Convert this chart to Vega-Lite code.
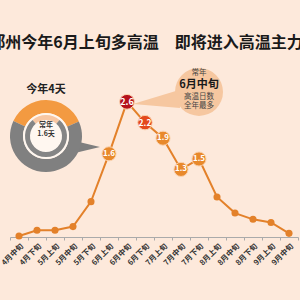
{
  "$schema": "https://vega.github.io/schema/vega-lite/v6.json",
  "width": 288,
  "height": 182,
  "autosize": {"type": "none"},
  "padding": {"left": 10, "top": 55, "right": 2, "bottom": 63},
  "background": "#fde9db",
  "config": {"view": {"stroke": null}, "font": "Noto Sans CJK SC"},
  "title": {"text": "郑州今年6月上旬多高温　即将进入高温主力位", "fontSize": 16, "fontWeight": "bold", "color": "#1a1a1a", "anchor": "middle", "frame": "group", "offset": 4},
  "datasets": {
    "main": [
      {"period": "4月中旬", "value": 0.02},
      {"period": "4月下旬", "value": 0.13},
      {"period": "5月上旬", "value": 0.13},
      {"period": "5月中旬", "value": 0.2},
      {"period": "5月下旬", "value": 0.68},
      {"period": "6月上旬", "value": 1.6, "label": "1.6", "tone": "mid"},
      {"period": "6月中旬", "value": 2.6, "label": "2.6", "tone": "peak"},
      {"period": "6月下旬", "value": 2.2, "label": "2.2", "tone": "high"},
      {"period": "7月上旬", "value": 1.9, "label": "1.9", "tone": "mid"},
      {"period": "7月中旬", "value": 1.3, "label": "1.3", "tone": "mid"},
      {"period": "7月下旬", "value": 1.5, "label": "1.5", "tone": "mid"},
      {"period": "8月上旬", "value": 0.77},
      {"period": "8月中旬", "value": 0.46},
      {"period": "8月下旬", "value": 0.34},
      {"period": "9月上旬", "value": 0.28},
      {"period": "9月中旬", "value": 0.07}
    ],
    "donutTail": [{"x": 3.28, "y": 1.83, "y2": 1.63}, {"x": 4.5, "y": 1.73, "y2": 1.73}],
    "bubbleTail": [{"x": 6.33, "y": 2.56, "y2": 2.56}, {"x": 8.94, "y": 2.83, "y2": 2.48}],
    "bubble": [{"x": 10, "y": 2.79}],
    "outer": [{"x": 1.5, "y": 1.94, "part": "今年", "days": 4}, {"x": 1.5, "y": 1.94, "part": "其余", "days": 7}],
    "inner": [{"x": 1.5, "y": 1.94, "part": "常年", "days": 1.6}, {"x": 1.5, "y": 1.94, "part": "其余", "days": 5.6}],
    "center": [{"x": 1.5, "y": 1.94}],
    "notes": [
      {"x": 1.5, "y": 2.83, "text": "今年4天", "role": "donutHead"},
      {"x": 1.5, "y": 2.15, "text": "常年", "role": "donutIn"},
      {"x": 1.5, "y": 1.98, "text": "1.6天", "role": "donutIn"},
      {"x": 10, "y": 3.16, "text": "常年", "role": "bubble"},
      {"x": 10, "y": 2.93, "text": "6月中旬", "role": "bubbleHead"},
      {"x": 10, "y": 2.7, "text": "高温日数", "role": "bubble"},
      {"x": 10, "y": 2.52, "text": "全年最多", "role": "bubble"}
    ]
  },
  "layer": [
    {
      "data": {"name": "main"},
      "encoding": {
        "x": {"field": "period", "type": "nominal", "sort": null,
          "scale": {"type": "band", "paddingInner": 0, "paddingOuter": 0},
          "axis": {"title": null, "labelAngle": -45, "labelFontSize": 7.5, "labelFontWeight": "bold", "labelColor": "#333", "domainColor": "#aaa", "tickColor": "#aaa", "tickSize": 3, "tickBand": "extent", "labelPadding": 2}},
        "y": {"field": "value", "type": "quantitative", "scale": {"domain": [0, 3.5], "nice": false}, "axis": null}
      },
      "layer": [
        {"mark": {"type": "line", "color": "#e3812a", "strokeWidth": 2}},
        {"mark": {"type": "circle", "color": "#e3812a", "opacity": 1, "size": 50}},
        {"transform": [{"filter": "datum.label != null"}],
          "mark": {"type": "circle", "opacity": 1, "stroke": "#fbd3b0", "strokeWidth": 1},
          "encoding": {
            "color": {"field": "tone", "type": "nominal", "scale": {"domain": ["mid", "high", "peak"], "range": ["#e8892c", "#e4491d", "#b5111c"]}, "legend": null},
            "size": {"field": "tone", "type": "nominal", "scale": {"domain": ["mid", "high", "peak"], "range": [200, 220, 310]}, "legend": null}
          }},
        {"transform": [{"filter": "datum.label != null"}],
          "mark": {"type": "text", "color": "white", "fontWeight": "bold"},
          "encoding": {
            "text": {"field": "label"},
            "size": {"field": "tone", "type": "nominal", "scale": {"domain": ["mid", "high", "peak"], "range": [8, 9, 10]}, "legend": null}
          }}
      ],
      "resolve": {"scale": {"size": "independent"}}
    },
    {
      "encoding": {
        "x": {"field": "x", "type": "quantitative", "scale": {"domain": [-0.5, 15.5], "nice": false, "zero": false}, "axis": null},
        "y": {"field": "y", "type": "quantitative", "scale": {"domain": [0, 3.5], "nice": false, "zero": false}, "axis": null}
      },
      "layer": [
        {"data": {"name": "donutTail"}, "mark": {"type": "area", "color": "#7f7f7f", "opacity": 1}, "encoding": {"y2": {"field": "y2"}}},
        {"data": {"name": "bubbleTail"}, "mark": {"type": "area", "color": "#f6c7a0", "opacity": 1}, "encoding": {"y2": {"field": "y2"}}},
        {"data": {"name": "bubble"}, "mark": {"type": "arc", "radius": 24, "theta": 0, "theta2": 6.2832, "color": "#f6c7a0"}},
        {"data": {"name": "outer"}, "mark": {"type": "arc", "radius": 36, "radius2": 23},
          "encoding": {
            "theta": {"field": "days", "type": "quantitative", "scale": {"range": [-1.1345, 5.1487]}},
            "order": {"field": "days", "sort": "ascending"},
            "color": {"field": "part", "type": "nominal", "scale": {"domain": ["今年", "其余"], "range": ["#f39a41", "#808080"]}, "legend": null}
          }},
        {"data": {"name": "center"}, "mark": {"type": "arc", "radius": 23, "theta": 0, "theta2": 6.2832, "color": "#fff7f0"}},
        {"data": {"name": "inner"}, "mark": {"type": "arc", "radius": 21, "radius2": 16},
          "encoding": {
            "theta": {"field": "days", "type": "quantitative", "scale": {"range": [-0.698, 5.585]}},
            "order": {"field": "days", "sort": "ascending"},
            "color": {"field": "part", "type": "nominal", "scale": {"domain": ["常年", "其余"], "range": ["#f8c7a3", "#858585"]}, "legend": null}
          }},
        {"data": {"name": "notes"}, "transform": [{"filter": "datum.role == 'donutHead'"}], "mark": {"type": "text", "fontSize": 11, "fontWeight": "bold", "color": "#222"}, "encoding": {"text": {"field": "text"}}},
        {"data": {"name": "notes"}, "transform": [{"filter": "datum.role == 'donutIn'"}], "mark": {"type": "text", "fontSize": 7, "fontWeight": "bold", "color": "#333"}, "encoding": {"text": {"field": "text"}}},
        {"data": {"name": "notes"}, "transform": [{"filter": "datum.role == 'bubbleHead'"}], "mark": {"type": "text", "fontSize": 11, "fontWeight": "bold", "color": "#1a1a1a"}, "encoding": {"text": {"field": "text"}}},
        {"data": {"name": "notes"}, "transform": [{"filter": "datum.role == 'bubble'"}], "mark": {"type": "text", "fontSize": 7.5, "color": "#444"}, "encoding": {"text": {"field": "text"}}}
      ],
      "resolve": {"scale": {"theta": "independent", "color": "independent"}}
    }
  ],
  "resolve": {"scale": {"x": "independent", "y": "independent", "color": "independent", "size": "independent"}}
}
